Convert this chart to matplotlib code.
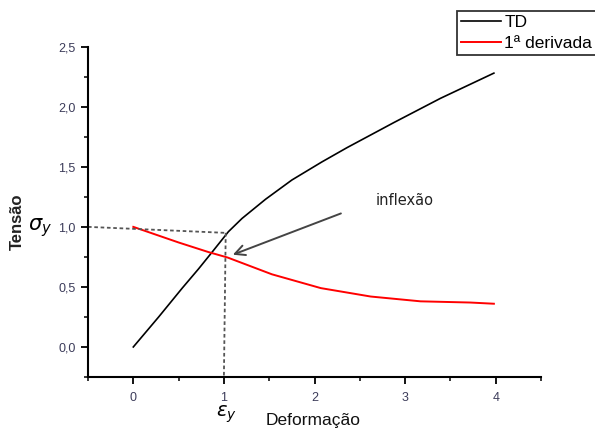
import matplotlib
matplotlib.use("Agg")
import matplotlib.pyplot as plt
from matplotlib.ticker import MultipleLocator

# Data
td_x = [0, 0.28, 0.54, 0.72, 0.87, 1.05, 1.20, 1.46, 1.75, 2.08, 2.36, 2.88, 3.39, 3.98]
td_y = [0, 0.25, 0.49, 0.65, 0.79, 0.96, 1.07, 1.23, 1.39, 1.54, 1.66, 1.87, 2.07, 2.28]
der_x = [0, 0.5, 0.83, 1.04, 1.53, 2.07, 2.62, 3.17, 3.72, 3.98]
der_y = [1.0, 0.87, 0.79, 0.745, 0.605, 0.49, 0.42, 0.38, 0.37, 0.36]
guide_h_x = [-0.5, 1.02]
guide_h_y = [1.0, 0.95]
guide_v_x = [1.02, 1.0]
guide_v_y = [0.95, -0.25]
x_ticks = [0, 1, 2, 3, 4]
x_labels = ["0", "1", "2", "3", "4"]
y_ticks = [0.0, 0.5, 1.0, 1.5, 2.0, 2.5]
y_labels = ["0,0", "0,5", "1,0", "1,5", "2,0", "2,5"]

plt.rcParams['font.family'] = ['Liberation Sans', 'DejaVu Sans']

fig = plt.figure(figsize=(5.95, 4.29), dpi=100)
ax = fig.add_axes([88/595, 1-377/429, (541-88)/595, (377-46.7)/429])

ax.plot(td_x, td_y, color='black', lw=1.2, label='TD')
ax.plot(der_x, der_y, color='red', lw=1.4, label='1ª derivada')
ax.plot(guide_h_x, guide_h_y, color='#555555', lw=1.3, ls=(0, (2, 1.5)))
ax.plot(guide_v_x, guide_v_y, color='#555555', lw=1.3, ls=(0, (2, 1.5)))

ax.annotate('', xy=(1.07, 0.76), xytext=(2.32, 1.12),
            arrowprops=dict(arrowstyle='->', color='#444444', lw=1.4,
                            mutation_scale=18))
ax.text(2.68, 1.22, 'inflexão', fontsize=10.5, family='DejaVu Sans',
        va='center', ha='left', color='#222222')

ax.set_xlim(-0.5, 4.5)
ax.set_ylim(-0.25, 2.5)
ax.set_xticks(x_ticks)
ax.set_xticklabels(x_labels)
ax.set_yticks(y_ticks)
ax.set_yticklabels(y_labels)
ax.xaxis.set_minor_locator(MultipleLocator(0.5))
ax.yaxis.set_minor_locator(MultipleLocator(0.25))
for s in ['top', 'right']:
    ax.spines[s].set_visible(False)
for s in ['left', 'bottom']:
    ax.spines[s].set_linewidth(1.5)
ax.tick_params(which='major', direction='out', length=5, width=1.3,
               labelsize=9, labelcolor='#3c3c5a', pad=4)
ax.tick_params(axis='x', which='major', pad=6)
ax.tick_params(which='minor', direction='out', length=3, width=1.1)

fig.text(17/595, 1-222/429, 'Tensão', rotation=90, fontsize=12,
         ha='center', va='center', fontweight='bold', color='#222222')
fig.text(40/595, 1-228/429, r'$\sigma_y$', fontsize=15, ha='center', va='center')
fig.text(226/595, 1-414/429, r'$\varepsilon_y$', fontsize=14, ha='center', va='center')
fig.text(313/595, 1-421/429, 'Deformação', fontsize=12.5, ha='center', va='center',
         color='#111111')

leg = fig.legend(loc='upper left', bbox_to_anchor=(456.7/595, 1-11/429),
                 bbox_transform=fig.transFigure, frameon=True, fancybox=False,
                 edgecolor='black', fontsize=12.5, handlelength=2.3,
                 handletextpad=0.2, labelspacing=0.3, borderpad=0.25,
                 borderaxespad=0)
leg.get_frame().set_linewidth(1.3)

fig.savefig('out.png', dpi=100)
